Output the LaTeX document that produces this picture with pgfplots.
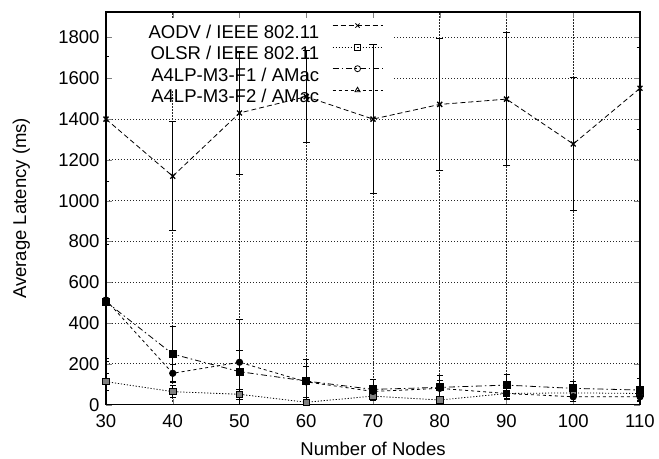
\documentclass[border=0pt]{standalone}
\usepackage{fontspec}
\setmainfont{Liberation Sans}
\usepackage{pgfplots}
\pgfplotsset{compat=1.18}
\begin{document}
\begin{tikzpicture}
\useasboundingbox (-106bp,-54.3bp) rectangle (553bp,404.7bp);
\begin{axis}[
 at={(0bp,0bp)}, anchor=south west,
 width=534bp, height=392.7bp, scale only axis,
 xmin=30, xmax=110, ymin=0, ymax=1925,
 xtick={30,40,...,110}, ytick={0,200,...,1800},
 tick align=inside, major tick length=6bp,
 grid=major,
 major grid style={draw=black!85, dash pattern=on 1.2bp off 1.8bp, line width=1bp},
 axis line style={line width=1.2bp},
 font=\fontsize{18.6}{22}\selectfont,
 /pgf/number format/assume math mode=true,
 /pgf/number format/set thousands separator={},
 xticklabel style={yshift=-6bp},
 yticklabel style={xshift=-3bp},
 xlabel={Number of Nodes}, ylabel={Average Latency (ms)},
 xlabel style={at={(axis description cs:0.5,-0.1306)}, anchor=base},
 ylabel style={at={(axis description cs:-0.1498,0.5)}, anchor=base},
 legend style={draw=none, fill=none, inner sep=0pt,
   at={(axis description cs:0.519,0.9713)}, anchor=north east,
   nodes={inner sep=0pt, text height=13bp, text depth=0.5bp},
   row sep=5.5bp, column sep=13bp},
 legend cell align=right, legend plot pos=right,
 legend image code/.code={\draw[mark repeat=2, mark phase=2, #1] plot coordinates {(0bp,6.3bp) (25bp,6.3bp) (50bp,6.3bp)};},
]
\addlegendimage{black, line width=0.8bp, dash pattern=on 5bp off 3bp, mark=x, mark size=3bp, mark options={solid}}
\addlegendentry{AODV / IEEE 802.11}
\addlegendimage{black, line width=0.8bp, dash pattern=on 1.2bp off 1.8bp, mark=square, mark size=3bp, mark options={solid}}
\addlegendentry{OLSR / IEEE 802.11}
\addlegendimage{black, line width=0.8bp, dash pattern=on 6bp off 3bp on 1.5bp off 3bp, mark=o, mark size=3bp, mark options={solid}}
\addlegendentry{A4LP-M3-F1 / AMac}
\addlegendimage{black, line width=0.8bp, dash pattern=on 3bp off 3bp, mark=triangle, mark size=3bp, mark options={solid}}
\addlegendentry{A4LP-M3-F2 / AMac}

% white key area hiding the grid (plots are drawn over it)
\fill[white] ([xshift=6.5bp]axis cs:30,1543) rectangle ([yshift=-6.5bp]axis cs:72.85,1925);

% AODV
\addplot[forget plot, black, line width=0.8bp, dash pattern=on 5bp off 3bp, mark=x, mark size=3.5bp, mark options={solid, line width=1.3bp},
 error bars/.cd, y dir=both, y explicit, error bar style={solid, line width=1bp, black}, error mark options={rotate=90, mark size=3.5bp, line width=1bp}]
 coordinates {
 (30,1400) +- (0,305)
 (40,1120) +- (0,268)
 (50,1430) +- (0,300)
 (60,1510) +- (0,226)
 (70,1400) +- (0,365)
 (80,1472) +- (0,325)
 (90,1498) +- (0,327)
 (100,1278) +- (0,327)
 (110,1551) +- (0,202)
 };
% OLSR
\addplot[forget plot, black, line width=0.8bp, dash pattern=on 1.2bp off 1.8bp, mark=square*, mark size=3.2bp, mark options={solid, fill=gray, draw=black},
 error bars/.cd, y dir=both, y explicit, error bar style={solid, line width=0.8bp, black}, error mark options={rotate=90, mark size=3bp, line width=0.8bp}]
 coordinates {
 (30,113) +- (0,42)
 (40,64) +- (0,30)
 (50,51) +- (0,25)
 (60,12) +- (0,10)
 (70,42) +- (0,20)
 (80,23) +- (0,15)
 (90,55) +- (0,25)
 (100,58) +- (0,20)
 (110,55) +- (0,20)
 };
% F1
\addplot[forget plot, black, line width=0.8bp, dash pattern=on 6bp off 3bp on 1.5bp off 3bp, mark=square*, mark size=3.5bp, mark options={solid},
 error bars/.cd, y dir=both, y explicit, error bar style={solid, line width=0.8bp, black}, error mark options={rotate=90, mark size=3bp, line width=0.8bp}]
 coordinates {
 (30,505) +- (0,280)
 (40,248) +- (0,134)
 (50,162) +- (0,106)
 (60,116) +- (0,106)
 (70,75) +- (0,50)
 (80,85) +- (0,60)
 (90,96) +- (0,54)
 (100,80) +- (0,36)
 (110,72) +- (0,57)
 };
% F2
\addplot[forget plot, black, line width=0.8bp, dash pattern=on 3bp off 3bp, mark=*, mark size=3.2bp, mark options={solid},
 error bars/.cd, y dir=both, y explicit, error bar style={solid, line width=0.8bp, black}, error mark options={rotate=90, mark size=3bp, line width=0.8bp}]
 coordinates {
 (30,513) +- (0,300)
 (40,154) +- (0,46)
 (50,208) +- (0,212)
 (60,112) +- (0,74)
 (70,65) +- (0,30)
 (80,80) +- (0,40)
 (90,55) +- (0,30)
 (100,39) +- (0,25)
 (110,39) +- (0,20)
 };
\end{axis}
\end{tikzpicture}
\end{document}
